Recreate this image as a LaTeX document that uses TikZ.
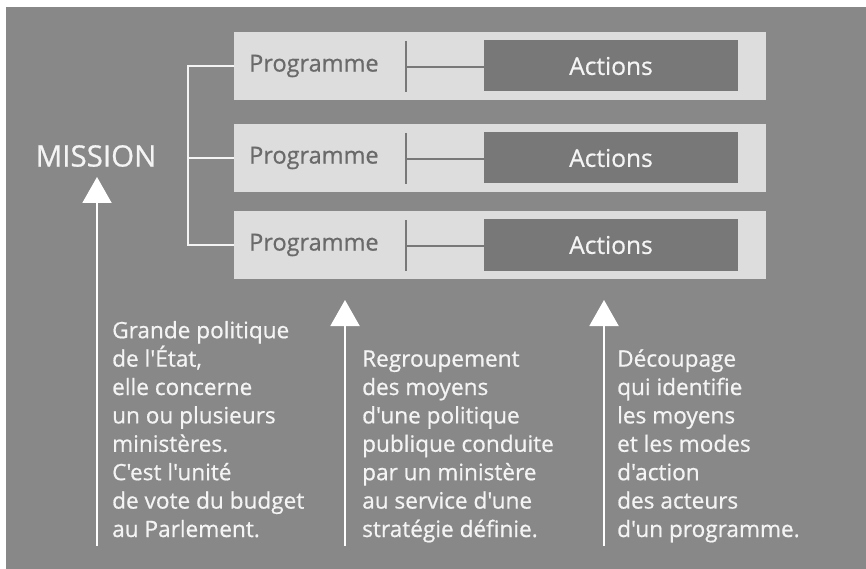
\documentclass[tikz,border=0pt]{standalone}
\usepackage{fontspec}
\setmainfont{Open Sans}
\newfontfamily\heavyfont{Open Sans}[FakeBold=0.7]
\usetikzlibrary{arrows.meta}
\definecolor{bggray}{HTML}{888888}
\definecolor{lightbox}{HTML}{DDDDDD}
\definecolor{actbox}{HTML}{787878}
\definecolor{progtext}{HTML}{6A6A6A}
\definecolor{wtext}{HTML}{F4F4F4}
\tikzset{
  progbox/.style={fill=lightbox, draw=none, minimum width=532pt, minimum height=68pt, inner sep=0pt},
  actionbox/.style={fill=actbox, draw=none, minimum width=254pt, minimum height=51pt, inner sep=0pt,
    text=wtext, font=\heavyfont\fontsize{24.5}{30}\selectfont},
  proglabel/.style={anchor=west, inner sep=0pt, text=progtext, font=\heavyfont\fontsize{23.5}{30}\selectfont},
  tickline/.style={draw=actbox, line width=1.6pt},
  wline/.style={draw=wtext, line width=2.2pt},
  uparrow/.style={draw=white, line width=2pt, -{Triangle[width=29pt,length=26pt,fill=white]}},
  bodytext/.style={anchor=base west, align=left, inner sep=0pt, text=wtext,
    font=\heavyfont\fontsize{22.6}{28.4}\selectfont},
}
\begin{document}
\begin{tikzpicture}[x=1pt,y=-1pt]
\useasboundingbox (0,0) rectangle (866,569);
\fill[white] (0,0) rectangle (866,569);
\fill[bggray] (6,7) rectangle (866,569);

% programme rows
\foreach \i/\y in {1/66,2/158,3/245}{
  \node[progbox] (p\i) at (500,\y) {};
  \node[proglabel] (pl\i) at (249,\y) {Programme};
  \node[actionbox] (a\i) at (611,\y) {Actions};
  \coordinate (tt\i) at (406,\y-25);
  \coordinate (tb\i) at (406,\y+26);
  \coordinate (tm\i) at (406,\y+1);
  \draw[tickline] (tt\i) -- (tb\i);
  \draw[tickline] (tm\i) -- (a\i.west |- tm\i);
}

% bracket
\coordinate (br) at (188,0);
\draw[wline] (p1.west) -- (p1.west -| br) -- (p3.west -| br) -- (p3.west);
\draw[wline] (p2.west -| br) -- (p2.west);

% mission
\node[inner sep=0pt, text=wtext, font=\heavyfont\fontsize{29.5}{32}\selectfont] (mission) at (96,156) {MISSION};

% arrows
\coordinate (a1s) at (97,546);
\coordinate (a1t) at (97,177);
\coordinate (a2s) at (345,546);
\coordinate (a2t) at (345,300);
\coordinate (a3s) at (604,546);
\coordinate (a3t) at (604,300);
\draw[uparrow] (a1s) -- (a1t);
\draw[uparrow] (a2s) -- (a2t);
\draw[uparrow] (a3s) -- (a3t);

% texts (anchor on the baseline of the last line)
\node[bodytext] (t1) at (112,537) {Grande politique\\de l'État,\\elle concerne\\un ou plusieurs\\ministères.\\C'est l'unité\\de vote du budget\\au Parlement.};
\node[bodytext] (t2) at (362,537) {Regroupement\\des moyens\\d'une politique\\publique conduite\\par un ministère\\au service d'une\\stratégie définie.};
\node[bodytext] (t3) at (617,537) {Découpage\\qui identifie\\les moyens\\et les modes\\d'action\\des acteurs\\d'un programme.};
\end{tikzpicture}
\end{document}
